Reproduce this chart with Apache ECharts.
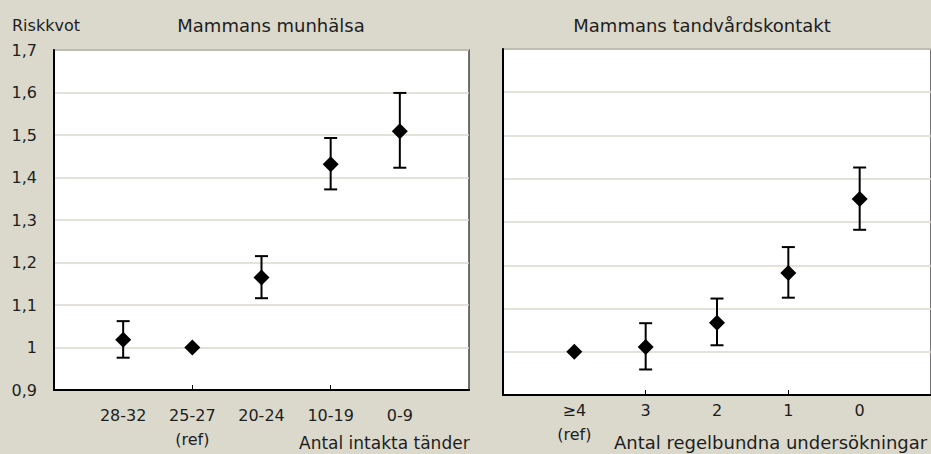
<!DOCTYPE html>
<html>
<head>
<meta charset="utf-8">
<script src="https://cdn.jsdelivr.net/npm/echarts@6/dist/echarts.min.js"></script>
<style>
html,body{margin:0;padding:0;background:#dbd8cc;}
#chart{width:931px;height:454px;}
</style>
</head>
<body>
<div id="chart"></div>
<script>
// ---- data ----
const leftCategories = ['28-32', '25-27\n(ref)', '20-24', '10-19', '0-9'];
const leftValues = [1.018, 1.0, 1.165, 1.431, 1.509];
const leftLow = [0.976, null, 1.116, 1.372, 1.423];
const leftHigh = [1.062, null, 1.215, 1.493, 1.599];

const rightCategories = ['≥4\n(ref)', '3', '2', '1', '0'];
const rightValues = [1.0, 1.011, 1.067, 1.182, 1.353];
const rightLow = [null, 0.959, 1.015, 1.125, 1.282];
const rightHigh = [null, 1.066, 1.123, 1.242, 1.426];

const yMin = 0.9, yMax = 1.7, yStep = 0.1;

const yTitle = 'Riskkvot';
const leftTitle = 'Mammans munhälsa';
const rightTitle = 'Mammans tandvårdskontakt';
const leftAxisName = 'Antal intakta tänder';
const rightAxisName = 'Antal regelbundna undersökningar';

// ---- build ----
const FONT = 'DejaVu Sans';
const TXT = '#1e1e1e';

function pts(vals) { return vals.map((v, i) => [i + 1, v]); }
function errs(lo, hi) {
  const out = [];
  lo.forEach((l, i) => { if (l != null && hi[i] != null) out.push([i + 1, l, hi[i]]); });
  return out;
}
function errRender(params, api) {
  const x = api.value(0);
  const lo = api.coord([x, api.value(1)]);
  const hi = api.coord([x, api.value(2)]);
  const w = 6.5;
  const st = { stroke: '#000', lineWidth: 2 };
  return {
    type: 'group',
    children: [
      { type: 'line', shape: { x1: lo[0], y1: lo[1], x2: hi[0], y2: hi[1] }, style: st },
      { type: 'line', shape: { x1: lo[0] - w, y1: lo[1], x2: lo[0] + w, y2: lo[1] }, style: st },
      { type: 'line', shape: { x1: hi[0] - w, y1: hi[1], x2: hi[0] + w, y2: hi[1] }, style: st }
    ]
  };
}
function fmtY(v) { return (Math.round(v * 10) / 10).toString().replace('.', ','); }

function xAxisCfg(gridIndex, cats, margin) {
  return {
    gridIndex, type: 'value', min: 0, max: 6, interval: 1,
    axisLine: { show: true, lineStyle: { color: '#000', width: 2 } },
    axisTick: { show: true, inside: true, length: 5, customValues: [2, 4], lineStyle: { color: '#000', width: 1 } },
    axisLabel: {
      customValues: [1, 2, 3, 4, 5],
      formatter: v => cats[Math.round(v) - 1] || '',
      fontFamily: FONT, fontSize: 16, color: TXT, margin: margin, lineHeight: 24
    },
    splitLine: { show: false }
  };
}
function yAxisCfg(gridIndex, showLabels) {
  return {
    gridIndex, type: 'value', min: yMin, max: yMax, interval: yStep,
    axisLine: { show: true, lineStyle: { color: '#000', width: 2 } },
    axisTick: { show: false },
    axisLabel: { show: showLabels, formatter: fmtY, fontFamily: FONT, fontSize: 16, color: TXT, margin: 17 },
    splitLine: { show: true, lineStyle: { color: '#dad7cc', width: 1.5 } }
  };
}

const chart = echarts.init(document.getElementById('chart'), null, { renderer: 'svg' });
chart.setOption({
  backgroundColor: '#dbd8cc',
  animation: false,
  grid: [
    { left: 54, top: 50, width: 415, height: 340, show: true, backgroundColor: '#fff', borderColor: '#444', borderWidth: 1.5 },
    { left: 503, top: 49, width: 435, height: 346, show: true, backgroundColor: '#fff', borderColor: '#444', borderWidth: 1.5 }
  ],
  xAxis: [xAxisCfg(0, leftCategories, 13), xAxisCfg(1, rightCategories, 3)],
  yAxis: [yAxisCfg(0, true), yAxisCfg(1, false)],
  series: [
    { type: 'custom', xAxisIndex: 0, yAxisIndex: 0, renderItem: errRender, data: errs(leftLow, leftHigh), z: 3 },
    { type: 'scatter', xAxisIndex: 0, yAxisIndex: 0, symbol: 'diamond', symbolSize: 16, itemStyle: { color: '#000', opacity: 1 }, data: pts(leftValues), z: 4 },
    { type: 'custom', xAxisIndex: 1, yAxisIndex: 1, renderItem: errRender, data: errs(rightLow, rightHigh), z: 3 },
    { type: 'scatter', xAxisIndex: 1, yAxisIndex: 1, symbol: 'diamond', symbolSize: 16, itemStyle: { color: '#000', opacity: 1 }, data: pts(rightValues), z: 4 }
  ],
  graphic: [
    { type: 'text', x: 12, y: 25, style: { text: yTitle, fontFamily: FONT, fontSize: 16, fill: TXT, textAlign: 'left', textVerticalAlign: 'middle' } },
    { type: 'text', x: 271, y: 25, style: { text: leftTitle, fontFamily: FONT, fontSize: 18, fill: TXT, textAlign: 'center', textVerticalAlign: 'middle' } },
    { type: 'text', x: 702, y: 25, style: { text: rightTitle, fontFamily: FONT, fontSize: 18, fill: TXT, textAlign: 'center', textVerticalAlign: 'middle' } },
    { type: 'text', x: 299, y: 443, style: { text: leftAxisName, fontFamily: FONT, fontSize: 17, fill: TXT, textAlign: 'left', textVerticalAlign: 'middle' } },
    { type: 'text', x: 614, y: 442, style: { text: rightAxisName, fontFamily: FONT, fontSize: 18, fill: TXT, textAlign: 'left', textVerticalAlign: 'middle' } }
  ]
});
</script>
</body>
</html>
